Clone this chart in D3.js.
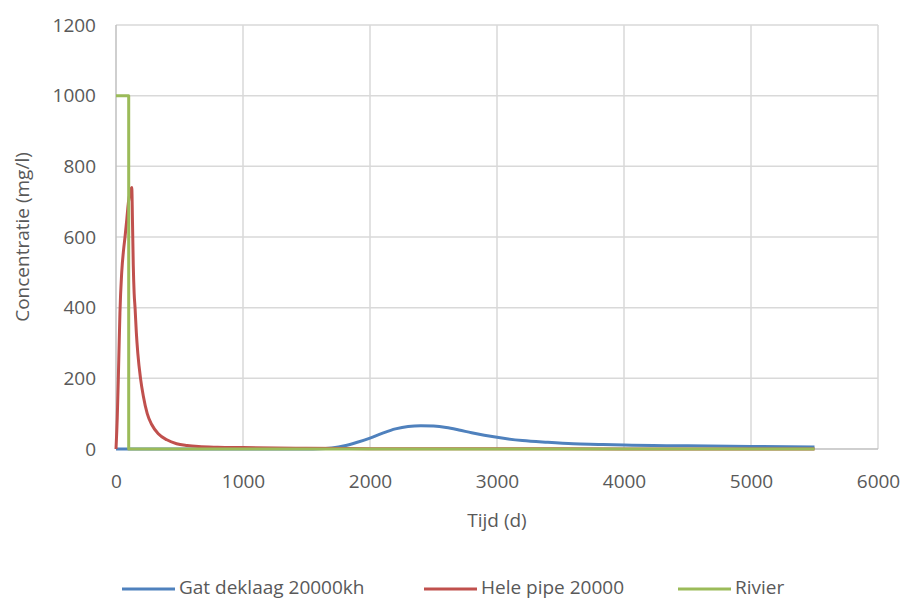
<!DOCTYPE html>
<html>
<head>
<meta charset="utf-8">
<script src="https://cdn.jsdelivr.net/npm/d3@7"></script>
<style>
  html, body { margin: 0; padding: 0; background: #fff; }
  svg { display: block; font-family: "Open Sans", "Noto Sans", sans-serif; }
</style>
</head>
<body>
<svg id="chart" width="905" height="600"></svg>
<script>
// ---- data ----
const xTicks = [0, 1000, 2000, 3000, 4000, 5000, 6000];
const yTicks = [0, 200, 400, 600, 800, 1000, 1200];
const seriesNames = ["Gat deklaag 20000kh", "Hele pipe 20000", "Rivier"];
const seriesColors = ["#4F81BD", "#C0504D", "#9BBB59"];

const gatT = [0, 1500, 1600, 1700, 1800, 1900, 2000, 2100, 2200, 2300, 2400, 2500, 2600, 2700, 2800, 2900, 3000, 3200, 3400, 3600, 3800, 4000, 4500, 5000, 5500];
const gatV = [0, 0, 0.5, 3, 9, 19, 31, 45, 57, 64, 66, 65, 61, 54, 46, 39, 33, 24, 19, 15, 13, 11, 9, 7, 6];

const heleT = [0, 10, 18, 25, 31, 45, 60, 71, 85, 97, 110, 124, 130, 136, 143, 150, 160, 172, 193, 215, 246, 280, 333, 400, 477, 560, 650, 800, 1000, 1500, 2000, 3000, 4000, 5000, 5500];
const heleV = [0, 90, 195, 300, 385, 500, 565, 600, 650, 696, 725, 740, 640, 520, 440, 400, 330, 270, 200, 150, 100, 70, 43, 26, 15, 10, 7, 5, 4, 2, 1, 0.5, 0.3, 0.2, 0.1];

const rivierT = [0, 100, 100, 5500];
const rivierV = [1000, 1000, 0, 0];

// ---- layout ----
const svg = d3.select("#chart");
const pL = 116, pR = 878, pT = 25, pB = 449;
const x = d3.scaleLinear().domain([0, 6000]).range([pL, pR]);
const y = d3.scaleLinear().domain([0, 1200]).range([pB, pT]);
const textColor = "#595959";

// gridlines
svg.append("g").selectAll("line").data(yTicks.slice(1)).join("line")
  .attr("x1", pL).attr("x2", pR)
  .attr("y1", d => y(d)).attr("y2", d => y(d))
  .attr("stroke", "#d9d9d9").attr("stroke-width", 1.5);
svg.append("g").selectAll("line").data(xTicks.slice(1)).join("line")
  .attr("y1", pT).attr("y2", pB)
  .attr("x1", d => x(d)).attr("x2", d => x(d))
  .attr("stroke", "#d9d9d9").attr("stroke-width", 1.5);

// axes lines
svg.append("line").attr("x1", pL).attr("x2", pL).attr("y1", pT).attr("y2", pB)
  .attr("stroke", "#bfbfbf").attr("stroke-width", 1.5);
svg.append("line").attr("x1", pL).attr("x2", pR).attr("y1", pB).attr("y2", pB)
  .attr("stroke", "#bfbfbf").attr("stroke-width", 1.5);

// tick labels
const xAxis = d3.axisBottom(x).tickValues(xTicks).tickSize(0).tickPadding(26).tickFormat(d3.format("d"));
const gx = svg.append("g").attr("transform", `translate(0,${pB})`).call(xAxis);
gx.select(".domain").remove();
gx.selectAll("text").attr("fill", textColor).style("font-size", "19px").style("font-family", "'Open Sans', sans-serif");

const yAxis = d3.axisLeft(y).tickValues(yTicks).tickSize(0).tickPadding(20).tickFormat(d3.format("d"));
const gy = svg.append("g").attr("transform", `translate(${pL},0)`).call(yAxis);
gy.select(".domain").remove();
gy.selectAll("text").attr("fill", textColor).style("font-size", "19px").style("font-family", "'Open Sans', sans-serif");

// axis titles
svg.append("text").attr("x", (pL + pR) / 2).attr("y", 527)
  .attr("text-anchor", "middle").attr("fill", textColor).style("font-size", "19px")
  .text("Tijd (d)");
svg.append("text").attr("transform", `translate(29,${(pT + pB) / 2}) rotate(-90)`)
  .attr("text-anchor", "middle").attr("fill", textColor).style("font-size", "19px")
  .text("Concentratie (mg/l)");

// series
const line = d3.line().x(d => x(d[0])).y(d => y(d[1]));
const lineCurve = d3.line().x(d => x(d[0])).y(d => y(d[1])).curve(d3.curveMonotoneX);
const series = [
  { t: gatT, v: gatV, gen: lineCurve },
  { t: heleT, v: heleV, gen: lineCurve },
  { t: rivierT, v: rivierV, gen: line }
];
series.forEach((s, i) => {
  svg.append("path")
    .datum(s.t.map((t, j) => [t, s.v[j]]))
    .attr("d", s.gen)
    .attr("fill", "none")
    .attr("stroke", seriesColors[i])
    .attr("stroke-width", 3)
    .attr("stroke-linejoin", "round");
});

// legend
const legendX = [122, 424, 678];
const lg = svg.append("g");
seriesNames.forEach((n, i) => {
  lg.append("line").attr("x1", legendX[i]).attr("x2", legendX[i] + 53)
    .attr("y1", 589).attr("y2", 589)
    .attr("stroke", seriesColors[i]).attr("stroke-width", 3);
  lg.append("text").attr("x", legendX[i] + 57).attr("y", 594)
    .attr("fill", textColor).style("font-size", "19px").text(n);
});
</script>
</body>
</html>
